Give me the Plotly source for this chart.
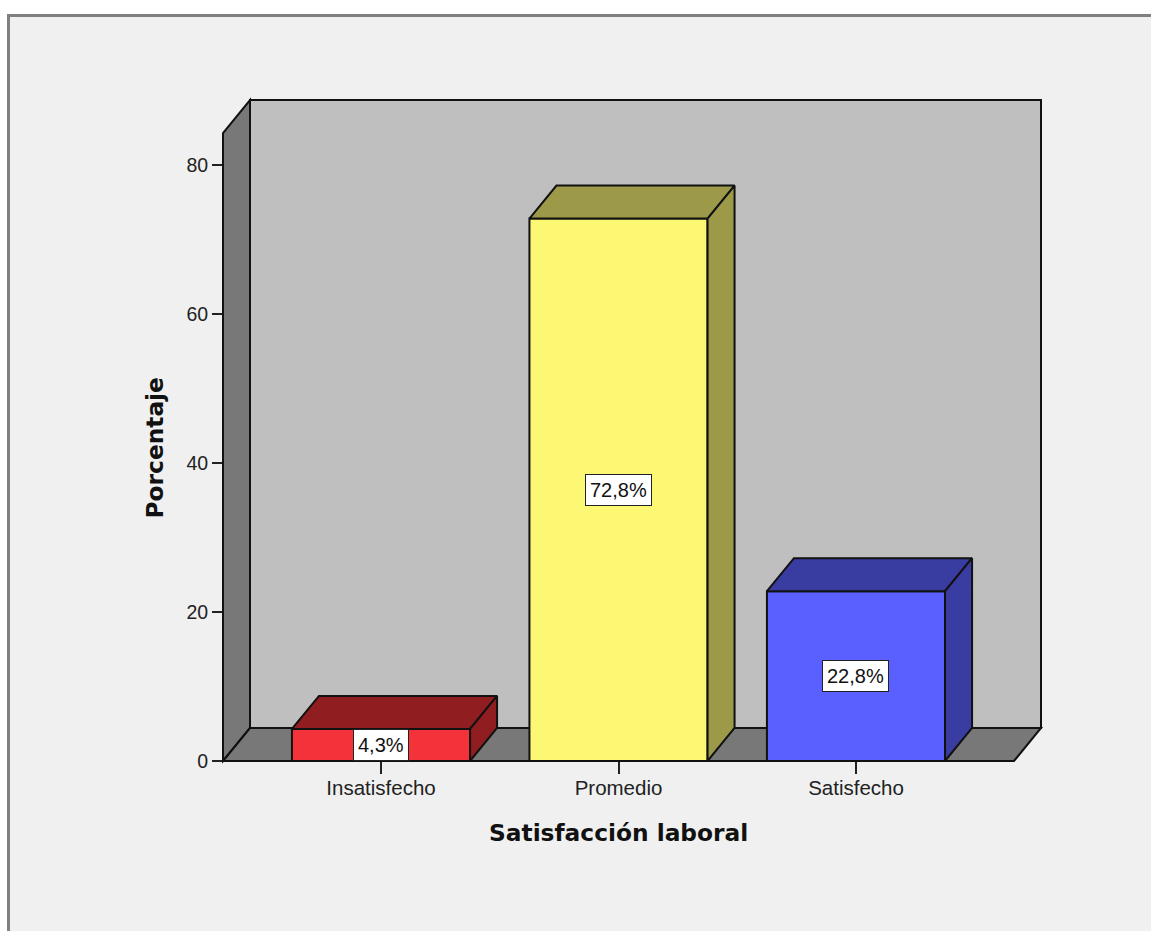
import plotly.graph_objects as go

# Survey results
categories = ["Insatisfecho", "Promedio", "Satisfecho"]
percentages = [4.3, 72.8, 22.8]
value_labels = ["4,3%", "72,8%", "22,8%"]
y_ticks = [0, 20, 40, 60, 80]

# Face colours of each box
front_colors = ["#f33239", "#fdf874", "#5a60ff"]
shade_colors = ["#901d20", "#9c9a48", "#393ca0"]

WIDTH, HEIGHT = 1151, 931
positions = list(range(len(categories)))
BAR_WIDTH = 0.75

# Axis ranges and the oblique offset of the pseudo-3D depth, in axis units
X_MIN, X_MAX = -0.6653, 2.779
Y_MAX = 88.72
DEPTH_X, DEPTH_Y = 0.1137, 4.43
FLOOR_RIGHT = X_MAX - DEPTH_X
EDGE = dict(color="#111111", width=2)


def dom_x(v):
    return (v - X_MIN) / (X_MAX - X_MIN)


def dom_y(v):
    return v / Y_MAX


def wall_path(points):
    body = " L ".join(f"{dom_x(x):.5f},{dom_y(y):.5f}" for x, y in points)
    return f"M {body} Z"


def wall(points, fill):
    return dict(type="path", layer="below", xref="x domain", yref="y domain",
                path=wall_path(points), fillcolor=fill, line=EDGE)


back_x = X_MIN + DEPTH_X
shapes = [
    # Panel behind the chart
    dict(type="rect", layer="below", xref="paper", yref="paper",
         x0=8.5 / WIDTH, x1=1.02, y0=-0.02, y1=1 - 15.5 / HEIGHT,
         fillcolor="#f0f0f0", line=dict(color="#808080", width=3)),
    wall([(back_x, DEPTH_Y), (X_MAX, DEPTH_Y), (X_MAX, Y_MAX), (back_x, Y_MAX)], "#bfbfbf"),
    wall([(X_MIN, 0), (back_x, DEPTH_Y), (back_x, Y_MAX), (X_MIN, Y_MAX - DEPTH_Y)], "#787878"),
    wall([(X_MIN, 0), (FLOOR_RIGHT, 0), (X_MAX, DEPTH_Y), (back_x, DEPTH_Y)], "#787878"),
]

fig = go.Figure()

# Front faces
fig.add_trace(go.Bar(
    x=positions, y=percentages, width=BAR_WIDTH,
    marker=dict(color=front_colors, line=EDGE),
    cliponaxis=False, hoverinfo="skip", showlegend=False,
))

# Top and side faces derived from each bar's value
half = BAR_WIDTH / 2
for pos, value, shade in zip(positions, percentages, shade_colors):
    left, right = pos - half, pos + half
    top_x = [left, left + DEPTH_X, right + DEPTH_X, right, left]
    top_y = [value, value + DEPTH_Y, value + DEPTH_Y, value, value]
    side_x = [right, right + DEPTH_X, right + DEPTH_X, right, right]
    side_y = [0, DEPTH_Y, value + DEPTH_Y, value, 0]
    for xs, ys in ((top_x, top_y), (side_x, side_y)):
        fig.add_trace(go.Scatter(
            x=xs, y=ys, mode="lines", fill="toself", fillcolor=shade,
            line=EDGE, cliponaxis=False, hoverinfo="skip", showlegend=False,
        ))

# Value labels centred on the front faces
annotations = [
    dict(x=pos, y=value / 2, text=label, showarrow=False,
         font=dict(family="Liberation Sans", size=20, color="#111111"),
         bgcolor="#ffffff", bordercolor="#222222", borderwidth=1, borderpad=4)
    for pos, value, label in zip(positions, percentages, value_labels)
]

# Axis titles
title_font = dict(family="DejaVu Sans", size=23.3, color="#111111", weight="bold")
annotations += [
    dict(xref="paper", yref="paper", x=619 / WIDTH, y=1 - 832 / HEIGHT,
         xanchor="center", yanchor="middle",
         text="Satisfacción laboral", showarrow=False, font=title_font),
    dict(xref="paper", yref="paper", x=153.5 / WIDTH, y=1 - 448 / HEIGHT,
         xanchor="center", yanchor="middle",
         text="Porcentaje", showarrow=False, textangle=-90, font=title_font),
]

fig.update_layout(
    width=WIDTH, height=HEIGHT,
    margin=dict(l=0, r=0, t=0, b=0, pad=0, autoexpand=False),
    paper_bgcolor="#ffffff", plot_bgcolor="rgba(0,0,0,0)",
    shapes=shapes, annotations=annotations, showlegend=False,
    xaxis=dict(
        domain=[223 / WIDTH, 1041 / WIDTH], range=[X_MIN, X_MAX],
        tickmode="array", tickvals=positions, ticktext=categories,
        ticks="outside", ticklen=12, tickwidth=2, tickcolor="#222222",
        ticklabelstandoff=-4,
        tickfont=dict(family="Liberation Sans", size=20.5, color="#222222"),
        showgrid=False, zeroline=False, showline=False,
    ),
    yaxis=dict(
        domain=[(HEIGHT - 761) / HEIGHT, (HEIGHT - 100) / HEIGHT], range=[0, Y_MAX],
        tickmode="array", tickvals=y_ticks,
        ticks="outside", ticklen=10, tickwidth=2, tickcolor="#222222",
        tickfont=dict(family="Liberation Sans", size=19.5, color="#222222"),
        showgrid=False, zeroline=False, showline=False,
    ),
)

fig.write_html("out.html")
